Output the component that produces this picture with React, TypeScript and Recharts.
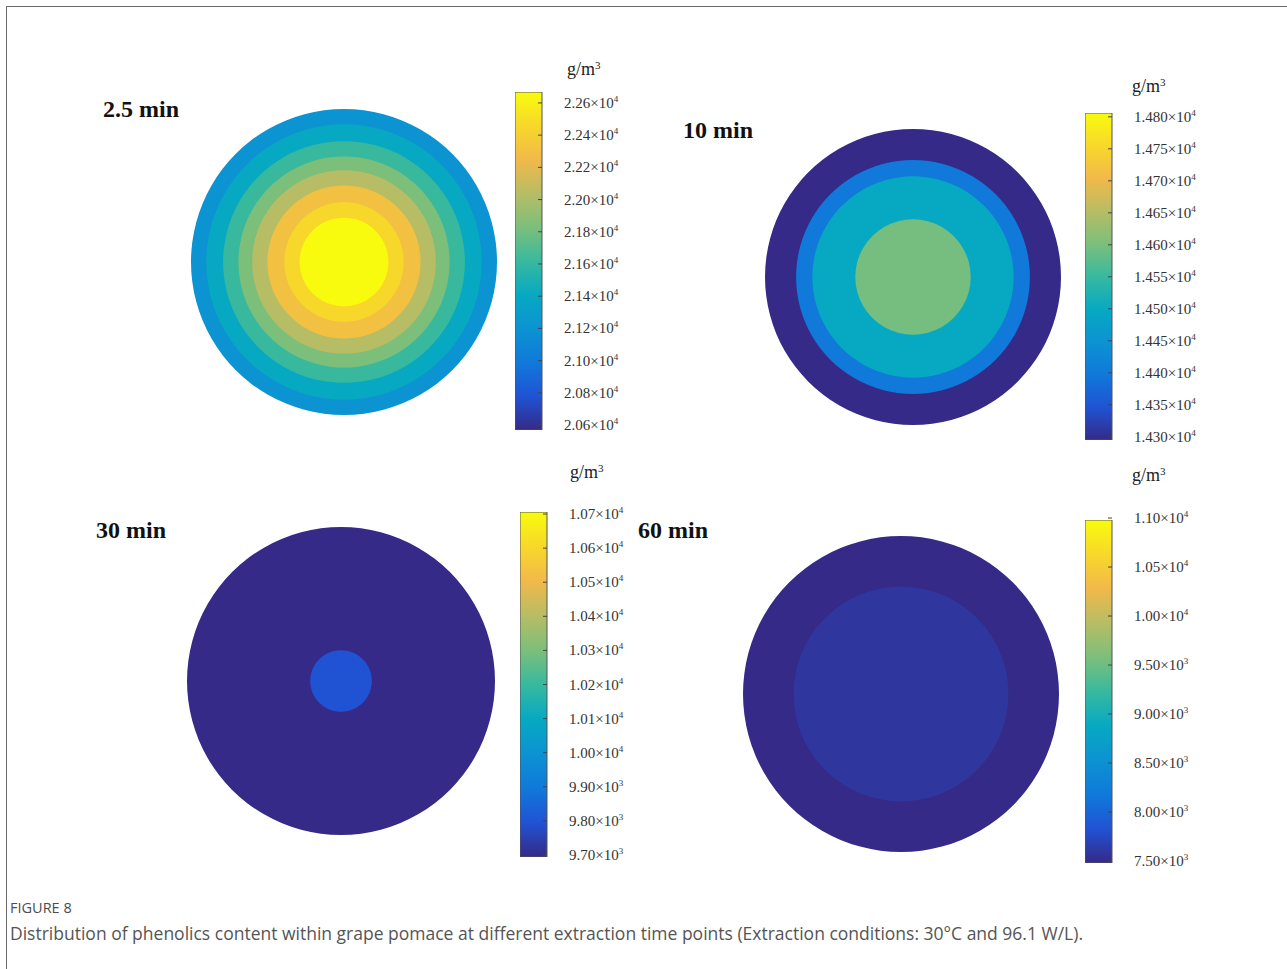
import React from 'react'
import { PieChart, Pie, Cell, BarChart, Bar, XAxis, YAxis } from 'recharts'

// Parula colour map, sampled from the 64-step table
const parulaStops: [number, number, number][] = [
  [53, 42, 135],
  [32, 83, 212],
  [16, 121, 218],
  [12, 147, 210],
  [7, 169, 194],
  [56, 185, 158],
  [124, 191, 123],
  [183, 189, 100],
  [241, 185, 74],
  [247, 216, 42],
  [249, 251, 14]
]

function parula(t: number): string {
  const c = Math.max(0, Math.min(1, t)) * (parulaStops.length - 1)
  const i = Math.min(Math.floor(c), parulaStops.length - 2)
  const f = c - i
  const a = parulaStops[i]
  const b = parulaStops[i + 1]
  const mix = (k: number) => Math.round(a[k] + (b[k] - a[k]) * f)
  return `rgb(${mix(0)},${mix(1)},${mix(2)})`
}

// Panel titles
const titles = ['2.5 min', '10 min', '30 min', '60 min']

// Contour rings: radius as a fraction of particle radius, and the level inside it (g/m³)
const ringRadius1 = [1, 0.9, 0.79, 0.69, 0.6, 0.5, 0.39, 0.29]
const ringValue1 = [21200, 21400, 21600, 21800, 22000, 22250, 22400, 22600]
const ringRadius2 = [1, 0.79, 0.68, 0.39]
const ringValue2 = [14300, 14400, 14500, 14595]
const ringRadius3 = [1, 0.2]
const ringValue3 = [9700, 9800]
const ringRadius4 = [1, 0.68]
const ringValue4 = [7500, 7600]

// Colour bar ticks
const ticks1 = [22600, 22400, 22200, 22000, 21800, 21600, 21400, 21200, 21000, 20800, 20600]
const ticks2 = [14800, 14750, 14700, 14650, 14600, 14550, 14500, 14450, 14400, 14350, 14300]
const ticks3 = [10700, 10600, 10500, 10400, 10300, 10200, 10100, 10000, 9900, 9800, 9700]
const ticks4 = [11000, 10500, 10000, 9500, 9000, 8500, 8000, 7500]

// Extent of each colour bar along its axis
const barExtent1 = [20569, 22668]
const barExtent2 = [14295, 14806]
const barExtent3 = [9694, 10706]
const barExtent4 = [7480, 10980]

const decimals = [2, 3, 2, 2]

const panels = [
  { radii: ringRadius1, values: ringValue1, ticks: ticks1, extent: barExtent1 },
  { radii: ringRadius2, values: ringValue2, ticks: ticks2, extent: barExtent2 },
  { radii: ringRadius3, values: ringValue3, ticks: ticks3, extent: barExtent3 },
  { radii: ringRadius4, values: ringValue4, ticks: ticks4, extent: barExtent4 }
]

// Placement on the page
const layout = [
  { title: [103, 117], circle: [344, 262, 153], bar: [515, 92, 27, 338], unit: [567, 74] },
  { title: [683, 138], circle: [913, 277, 148], bar: [1085, 113, 27, 327], unit: [1132, 91] },
  { title: [96, 538], circle: [341, 681, 154], bar: [520, 512, 27, 345], unit: [570, 477] },
  { title: [638, 538], circle: [901, 694, 158], bar: [1085, 520, 27, 343], unit: [1132, 480] }
]

const serif = '"Liberation Serif", "Times New Roman", serif'

function ColorTick(props: any) {
  const { x, y, payload, digits } = props
  const v = payload.value as number
  const exp = Math.floor(Math.log10(v) + 1e-9)
  const mant = (v / Math.pow(10, exp)).toFixed(digits)
  return (
    <g>
      <line x1={x - 4} x2={x} y1={y} y2={y} stroke="#444" strokeWidth={1} />
      <text x={x + 22} y={y + 5} fontFamily={serif} fontSize={15} fill="#333">
        {mant}×10
        <tspan dy={-6} fontSize={9}>{exp}</tspan>
      </text>
    </g>
  )
}

function Ring({ index }: { index: number }) {
  const p = panels[index]
  const [cx, cy, R] = layout[index].circle
  const lo = p.ticks[p.ticks.length - 1]
  const hi = p.ticks[0]
  const size = R * 2 + 10
  return (
    <div style={{ position: 'absolute', left: cx - size / 2, top: cy - size / 2 }}>
      <PieChart width={size} height={size} margin={{ top: 0, right: 0, bottom: 0, left: 0 }}>
        {p.radii.map((r, i) => (
          <Pie
            key={i}
            data={[{ name: 'level', v: 1 }]}
            dataKey="v"
            cx="50%"
            cy="50%"
            innerRadius={0}
            outerRadius={R * r}
            startAngle={90}
            endAngle={-270}
            stroke="none"
            isAnimationActive={false}
          >
            <Cell fill={parula((p.values[i] - lo) / (hi - lo))} />
          </Pie>
        ))}
      </PieChart>
    </div>
  )
}

function ColorBar({ index }: { index: number }) {
  const p = panels[index]
  const [bx, by, bw, bh] = layout[index].bar
  const pad = 20
  const gid = `parula-${index}`
  return (
    <div style={{ position: 'absolute', left: bx, top: by - pad }}>
      <BarChart
        width={bw + 110}
        height={bh + pad * 2}
        data={[{ name: 'bar', range: p.extent }]}
        margin={{ top: pad, right: 0, bottom: pad, left: 0 }}
        barCategoryGap={0}
        barGap={0}
      >
        <defs>
          <linearGradient id={gid} x1="0" y1="1" x2="0" y2="0">
            {parulaStops.map((_, i) => (
              <stop
                key={i}
                offset={i / (parulaStops.length - 1)}
                stopColor={parula(i / (parulaStops.length - 1))}
              />
            ))}
          </linearGradient>
        </defs>
        <XAxis dataKey="name" hide />
        <YAxis
          orientation="right"
          type="number"
          width={110}
          domain={p.extent}
          allowDataOverflow
          ticks={p.ticks}
          interval={0}
          axisLine={false}
          tickLine={false}
          tickSize={0}
          tickMargin={0}
          tick={<ColorTick digits={decimals[index]} />}
        />
        <Bar
          dataKey="range"
          fill={`url(#${gid})`}
          stroke="#555"
          strokeWidth={1}
          isAnimationActive={false}
        />
      </BarChart>
    </div>
  )
}

export default function App() {
  return (
    <div
      style={{
        position: 'absolute',
        left: 0,
        top: 0,
        width: 1287,
        height: 969,
        overflow: 'hidden',
        background: '#fff'
      }}
    >
      <div
        style={{
          position: 'absolute',
          left: 6,
          top: 6,
          width: 1320,
          height: 1020,
          border: '1.5px solid #6a6a6a'
        }}
      />
      {titles.map((t, i) => (
        <React.Fragment key={t}>
          <div
            style={{
              position: 'absolute',
              left: layout[i].title[0],
              top: layout[i].title[1] - 20,
              fontFamily: serif,
              fontWeight: 'bold',
              fontSize: 24,
              lineHeight: 1,
              color: '#111',
              whiteSpace: 'nowrap'
            }}
          >
            {t}
          </div>
          <div
            style={{
              position: 'absolute',
              left: layout[i].unit[0],
              top: layout[i].unit[1] - 14,
              fontFamily: serif,
              fontSize: 18,
              lineHeight: 1,
              color: '#222',
              whiteSpace: 'nowrap'
            }}
          >
            g/m<sup style={{ fontSize: 11, verticalAlign: 6 }}>3</sup>
          </div>
          <Ring index={i} />
          <ColorBar index={i} />
        </React.Fragment>
      ))}
      <div
        style={{
          position: 'absolute',
          left: 10,
          top: 901,
          fontFamily: '"Open Sans", sans-serif',
          fontSize: 14.5,
          lineHeight: 1,
          color: '#4d4d4d',
          whiteSpace: 'nowrap'
        }}
      >
        FIGURE 8
      </div>
      <div
        style={{
          position: 'absolute',
          left: 10,
          top: 925,
          fontFamily: '"Open Sans", sans-serif',
          fontSize: 17.5,
          lineHeight: 1,
          color: '#555',
          whiteSpace: 'nowrap'
        }}
      >
        Distribution of phenolics content within grape pomace at different extraction time points (Extraction conditions: 30°C and 96.1 W/L).
      </div>
    </div>
  )
}
